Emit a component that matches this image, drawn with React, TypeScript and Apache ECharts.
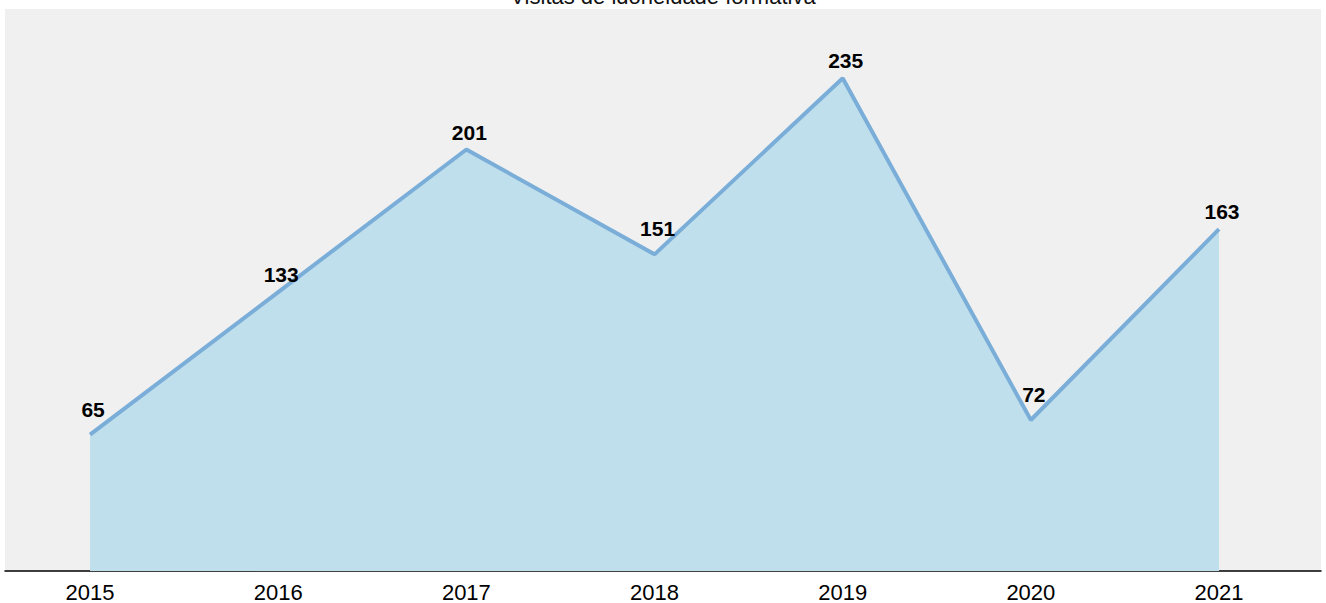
import React, { useEffect, useRef } from "react";
import * as echarts from "echarts";

const titleText = "Visitas de idoneidade formativa";
const years = [2015, 2016, 2017, 2018, 2019, 2020, 2021];
const visits = [65, 133, 201, 151, 235, 72, 163];

export default function App() {
  const ref = useRef<HTMLDivElement>(null);
  useEffect(() => {
    if (!ref.current) return;
    const chart = echarts.init(ref.current, null, { renderer: "svg" });
    // labels at local minima sit further above the line
    const seriesData = years.map((y, i) => {
      const prev = i > 0 ? visits[i - 1] : Infinity;
      const next = i < visits.length - 1 ? visits[i + 1] : Infinity;
      const isLow = visits[i] < prev && visits[i] < next;
      return {
        value: [y, visits[i]],
        label: { distance: isLow ? 14 : 6 },
      };
    });
    chart.setOption({
      animation: false,
      title: {
        text: titleText,
        left: "center",
        top: -20,
        textStyle: { fontFamily: "Liberation Sans, Arial", fontSize: 22, fontWeight: "normal", color: "#111" },
      },
      grid: {
        left: 5,
        right: 5,
        top: 9,
        bottom: 32,
        outerBoundsMode: "none",
        containLabel: false,
        show: true,
        backgroundColor: "#f0f0f0",
        borderWidth: 0,
      },
      xAxis: {
        type: "value",
        min: 2014.548,
        max: 2021.542,
        splitLine: { show: false },
        axisLine: { show: true, lineStyle: { color: "#000", width: 1.5 } },
        axisTick: { show: false },
        axisLabel: {
          customValues: years,
          formatter: (v: number) => String(Math.round(v)),
          fontFamily: "Liberation Sans, Arial",
          fontSize: 22,
          color: "#000",
          margin: 10,
        },
      },
      yAxis: {
        type: "value",
        min: 0,
        max: 268,
        show: false,
        splitLine: { show: false },
      },
      series: [
        {
          type: "line",
          data: seriesData,
          symbol: "circle",
          symbolSize: 2,
          showSymbol: true,
          itemStyle: { color: "transparent", borderWidth: 0 },
          lineStyle: { color: "#7aaed8", width: 4 },
          areaStyle: { color: "#c0dfec", opacity: 1 },
          label: {
            show: true,
            position: "top",
            distance: 6,
            offset: [3, 0],
            formatter: (p: any) => String(p.value[1]),
            fontFamily: "Liberation Sans, Arial",
            fontSize: 21,
            fontWeight: "bold",
            color: "#000",
          },
        },
      ],
    });
    return () => chart.dispose();
  }, []);
  return <div ref={ref} style={{ width: 1326, height: 603, position: "absolute", left: 0, top: 0 }} />;
}
